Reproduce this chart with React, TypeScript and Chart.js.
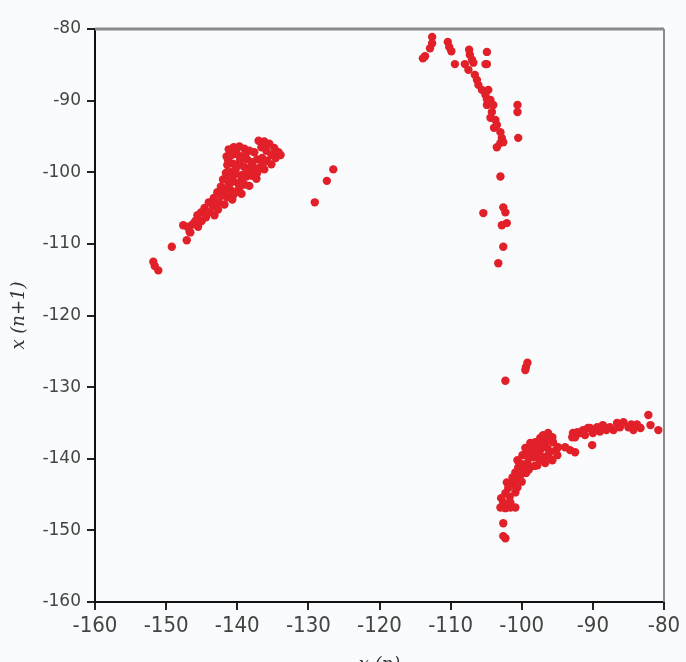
import { useEffect, useRef } from "react";
import { Chart, registerables } from "chart.js";

Chart.register(...registerables);

const BG = "#f9fbfc";
const POINT_COLOR = "#e2202a";

const axisMin = -160;
const axisMax = -80;
const tickStep = 10;
const xTitle = "x (n)";
const yTitle = "x (n+1)";

// Left diagonal cluster
const leftBand: [number, number][] = [
  [-151.8, -112.5], [-151.6, -113.1], [-151.1, -113.7], [-149.2, -110.4], [-147.1, -109.5],
  [-146.6, -108.4], [-147.6, -107.4], [-147.0, -107.6], [-146.7, -108.3], [-146.3, -107.3],
  [-145.5, -107.6], [-145.9, -106.8], [-145.0, -106.8], [-145.6, -106.0], [-144.4, -106.3],
  [-145.1, -105.6], [-143.9, -105.6], [-143.2, -106.0], [-144.6, -105.0], [-143.4, -104.8],
  [-142.7, -105.2], [-144.0, -104.2], [-142.6, -104.2], [-141.8, -104.5], [-143.3, -103.6],
  [-142.2, -103.3], [-141.4, -103.5], [-140.7, -103.8], [-142.8, -102.8], [-142.3, -102.0],
  [-141.6, -102.3], [-140.9, -102.5], [-140.1, -102.7], [-139.4, -103.0], [-142.0, -101.0],
  [-141.3, -101.2], [-140.5, -101.3], [-139.8, -101.6], [-139.0, -101.7], [-138.3, -101.9],
  [-141.6, -100.1], [-140.9, -100.0], [-140.2, -100.2], [-139.4, -100.4], [-138.7, -100.6],
  [-137.9, -100.5], [-137.3, -100.9], [-141.4, -99.0], [-140.6, -98.8], [-139.9, -98.9],
  [-139.1, -99.2], [-138.3, -99.4], [-137.6, -99.5], [-136.8, -99.3], [-136.2, -99.6],
  [-141.5, -97.8], [-140.8, -97.6], [-140.0, -97.5], [-139.3, -97.8], [-138.6, -98.2],
  [-137.9, -98.6], [-137.2, -98.2], [-136.5, -98.0], [-135.8, -98.4], [-135.2, -98.9],
  [-141.2, -96.8], [-140.5, -96.5], [-139.7, -96.4], [-139.0, -96.7], [-138.3, -97.0],
  [-137.0, -95.6], [-136.2, -95.7], [-135.5, -96.0], [-134.8, -96.6], [-134.2, -97.2],
  [-133.9, -97.6], [-136.6, -96.5], [-135.9, -97.0], [-135.2, -97.6], [-134.6, -98.0],
  [-140.2, -97.1], [-138.8, -97.4], [-137.6, -97.2], [-136.0, -96.4], [-140.2, -99.5],
  [-138.7, -99.9], [-137.2, -100.1], [-141.0, -100.7], [-139.4, -101.0], [-141.2, -101.8],
  [-139.7, -102.1], [-142.0, -102.9], [-140.5, -103.1], [-142.9, -104.3], [-141.3, -98.3],
  [-139.6, -98.3], [-137.9, -99.0], [-136.4, -98.8], [-144.3, -105.5], [-145.8, -107.2],
];

// Three isolated points right of the left cluster
const sparsePoints: [number, number][] = [
  [-129.1, -104.2], [-127.4, -101.2], [-126.5, -99.6],
];

// Top arc descending near x = -103
const topArc: [number, number][] = [
  [-112.6, -81.1], [-112.6, -82.0], [-112.9, -82.7], [-113.6, -83.8], [-113.9, -84.1],
  [-110.4, -81.8], [-110.2, -82.5], [-109.9, -83.1], [-109.4, -84.9], [-107.4, -82.9],
  [-107.3, -83.6], [-107.0, -84.3], [-104.9, -83.2], [-104.9, -84.9], [-105.1, -84.9],
  [-108.0, -84.9], [-106.8, -84.7], [-107.5, -85.7], [-106.6, -86.4], [-106.3, -87.1],
  [-106.1, -87.8], [-105.6, -88.5], [-105.1, -89.2], [-104.7, -88.5], [-104.4, -89.9],
  [-104.9, -90.6], [-104.0, -90.6], [-104.2, -91.6], [-104.4, -92.4], [-103.7, -92.7],
  [-103.5, -93.4], [-103.0, -94.4], [-102.8, -95.2], [-103.0, -95.9], [-103.5, -96.5],
  [-102.6, -95.8], [-100.6, -90.6], [-100.6, -91.6], [-100.5, -95.2], [-103.0, -100.6],
  [-105.4, -105.7], [-102.6, -104.9], [-102.3, -105.6], [-102.1, -107.1], [-102.8, -107.4],
  [-102.6, -110.4], [-103.3, -112.7], [-103.9, -93.8], [-104.9, -89.8],
];

// Small group in the middle
const midGroup: [number, number][] = [
  [-102.3, -129.1], [-99.5, -127.6], [-99.2, -126.6], [-99.4, -127.2],
];

// Bottom-right cluster
const bottomCluster: [number, number][] = [
  [-102.3, -151.1], [-102.6, -150.8], [-102.6, -149.0], [-103.0, -146.8], [-102.3, -146.9],
  [-101.6, -146.8], [-100.9, -146.8], [-102.6, -146.1], [-101.6, -146.1], [-102.3, -144.8],
  [-101.9, -144.1], [-102.1, -143.3], [-100.9, -144.7], [-101.3, -143.7], [-100.6, -144.0],
  [-101.3, -142.6], [-100.9, -141.9], [-100.2, -142.3], [-100.5, -141.2], [-99.8, -141.3],
  [-100.6, -140.2], [-99.9, -139.5], [-99.2, -140.6], [-99.1, -139.8], [-99.5, -138.5],
  [-98.8, -137.8], [-98.1, -137.7], [-97.4, -137.1], [-97.0, -136.7], [-96.3, -136.4],
  [-95.7, -137.0], [-95.6, -137.7], [-94.9, -138.4], [-95.0, -139.5], [-95.7, -140.2],
  [-96.7, -140.6], [-97.8, -140.9], [-98.4, -139.8], [-97.4, -138.8], [-96.4, -138.5],
  [-97.0, -139.8], [-96.3, -139.5], [-97.8, -138.8], [-98.5, -138.8], [-99.0, -141.5],
  [-98.2, -141.0], [-97.5, -140.2], [-96.0, -139.0], [-98.3, -138.3], [-97.2, -137.9],
  [-93.9, -138.4], [-93.2, -138.8], [-92.5, -139.1], [-101.7, -145.3], [-102.9, -145.5],
  [-101.0, -143.0], [-100.0, -143.2], [-99.4, -142.0], [-100.1, -140.7], [-99.0, -139.0],
  [-96.5, -137.5], [-95.2, -138.8], [-98.0, -139.5], [-96.1, -140.0],
];

// Tail extending to the right edge
const rightTail: [number, number][] = [
  [-92.5, -137.0], [-91.8, -136.4], [-91.1, -136.7], [-90.7, -135.7], [-92.8, -136.4],
  [-92.2, -136.3], [-91.4, -136.0], [-90.4, -135.7], [-90.1, -138.1], [-89.4, -135.6],
  [-88.6, -135.3], [-87.6, -135.6], [-86.6, -135.0], [-85.7, -134.9], [-85.0, -135.6],
  [-84.3, -136.0], [-83.3, -135.7], [-82.2, -133.9], [-81.9, -135.3], [-80.8, -136.0],
  [-86.2, -135.6], [-87.1, -136.0], [-92.9, -137.0], [-89.0, -136.2], [-84.6, -135.2],
  [-90.0, -136.4], [-88.1, -136.0], [-83.8, -135.2],
];

const allGroups = [leftBand, sparsePoints, topArc, midGroup, bottomCluster, rightTail];

const framePlugin = {
  id: "frame",
  afterDraw(chart: any) {
    const { ctx, chartArea } = chart;
    ctx.save();
    ctx.strokeStyle = "#8a8a8a";
    ctx.lineWidth = 3;
    ctx.beginPath();
    ctx.moveTo(chartArea.left, chartArea.top);
    ctx.lineTo(chartArea.right, chartArea.top);
    ctx.stroke();
    ctx.lineWidth = 2;
    ctx.beginPath();
    ctx.moveTo(chartArea.right, chartArea.top);
    ctx.lineTo(chartArea.right, chartArea.bottom);
    ctx.stroke();
    ctx.restore();
  },
};

export default function App() {
  const ref = useRef<HTMLCanvasElement>(null);
  useEffect(() => {
    document.body.style.margin = "0";
    document.body.style.background = BG;
    const data = allGroups.flat().map(([x, y]) => ({ x, y }));
    const axisCommon = {
      type: "linear" as const,
      min: axisMin,
      max: axisMax,
      grid: {
        drawOnChartArea: false,
        drawTicks: true,
        tickLength: 8,
        lineWidth: 2,
        color: "#222",
      },
      border: { display: true, color: "#111", width: 2 },
    };
    const chart = new Chart(ref.current!, {
      type: "scatter",
      data: {
        datasets: [
          {
            data,
            backgroundColor: POINT_COLOR,
            borderColor: POINT_COLOR,
            borderWidth: 0,
            pointRadius: 4.2,
          },
        ],
      },
      options: {
        responsive: false,
        animation: false,
        layout: { padding: { top: 29, right: 22, bottom: 0, left: 0 } },
        plugins: { legend: { display: false }, tooltip: { enabled: false } },
        scales: {
          x: {
            ...axisCommon,
            position: "bottom",
            afterFit: (s: any) => {
              s.height = 60;
            },
            ticks: {
              stepSize: tickStep,
              padding: 3,
              color: "#444",
              font: { family: "'DejaVu Sans Condensed', 'DejaVu Sans', sans-serif", size: 22 },
            },
            title: {
              display: true,
              text: xTitle,
              color: "#333",
              font: { family: "'DejaVu Serif', serif", size: 18, style: "italic" },
              padding: { top: 0, bottom: -14 },
            },
          },
          y: {
            ...axisCommon,
            position: "left",
            afterFit: (s: any) => {
              s.width = 95;
            },
            ticks: {
              stepSize: tickStep,
              padding: 6,
              color: "#444",
              font: { family: "'DejaVu Sans', sans-serif", size: 17 },
            },
            title: {
              display: true,
              text: yTitle,
              color: "#333",
              font: { family: "'DejaVu Serif', serif", size: 18, style: "italic" },
              padding: { top: 9, bottom: 0 },
            },
          },
        },
      },
      plugins: [framePlugin],
    });
    return () => chart.destroy();
  }, []);
  return (
    <div style={{ width: 686, height: 662, background: BG, overflow: "hidden" }}>
      <canvas ref={ref} width={686} height={662} style={{ display: "block" }} />
    </div>
  );
}
